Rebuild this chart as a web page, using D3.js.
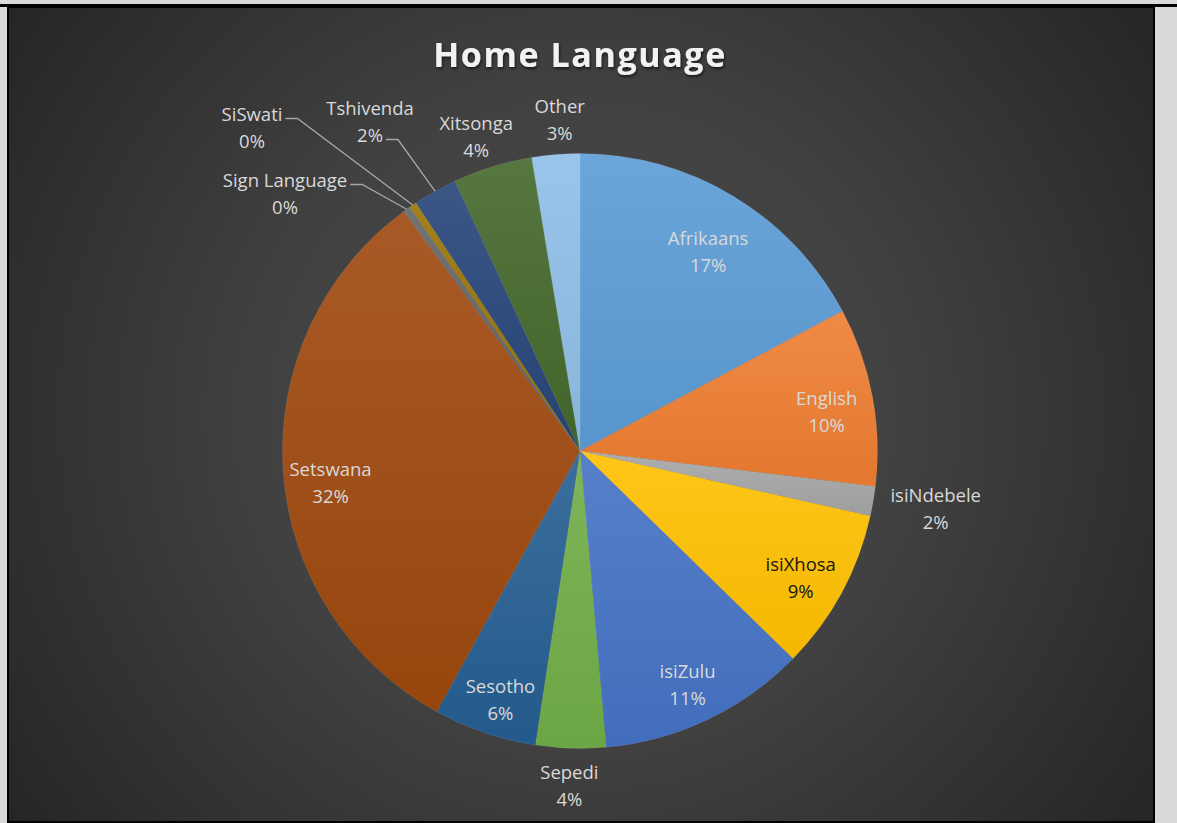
<!DOCTYPE html>
<html>
<head>
<meta charset="utf-8">
<script src="https://cdn.jsdelivr.net/npm/d3@7"></script>
<style>
  html, body { margin: 0; padding: 0; background: #d9d9d9; }
  svg { display: block; }
</style>
</head>
<body>
<svg id="chart" width="1177" height="823"></svg>
<script>
// Home language shares (percent of respondents), clockwise from 12 o'clock
const languages = ["Afrikaans", "English", "isiNdebele", "isiXhosa", "isiZulu", "Sepedi",
  "Sesotho", "Setswana", "Sign Language", "SiSwati", "Tshivenda", "Xitsonga", "Other"];
const shares = [17.2, 9.7, 1.6, 8.8, 11.3, 3.8, 5.6, 31.9, 0.4, 0.4, 2.4, 4.3, 2.6];
const sliceColors = ["#5b9bd5", "#ed7d31", "#a5a5a5", "#ffc000", "#4472c4", "#70ad47",
  "#255e91", "#9e480e", "#636363", "#997300", "#264478", "#43682b", "#8fbde6"];
const chartTitle = "Home Language";

const data = languages.map((name, i) => ({ name, value: shares[i], color: sliceColors[i] }));
const total = d3.sum(shares);
const pctText = v => Math.round(v / total * 100) + "%";

const W = 1177, H = 823;
const svg = d3.select("#chart");
const defs = svg.append("defs");

// panel frame
svg.append("rect").attr("x", 0).attr("y", 4).attr("width", W).attr("height", 3).attr("fill", "#000");
const panel = { x: 9, y: 8, w: 1144, h: 813 };

const bg = defs.append("radialGradient").attr("id", "bg")
  .attr("gradientUnits", "userSpaceOnUse")
  .attr("cx", panel.x + panel.w / 2).attr("cy", panel.y + panel.h / 2).attr("r", 720);
bg.append("stop").attr("offset", "0").attr("stop-color", "#4b4b4b");
bg.append("stop").attr("offset", "0.45").attr("stop-color", "#414141");
bg.append("stop").attr("offset", "1").attr("stop-color", "#242424");

svg.append("rect").attr("x", 7).attr("y", 7).attr("width", panel.w + 4).attr("height", H - 7).attr("fill", "#000");
svg.append("rect").attr("x", panel.x).attr("y", panel.y).attr("width", panel.w).attr("height", panel.h)
  .attr("fill", "url(#bg)");

// title
const shadow = defs.append("filter").attr("id", "tshadow").attr("x", "-10%").attr("y", "-30%")
  .attr("width", "120%").attr("height", "160%");
shadow.append("feDropShadow").attr("dx", 1).attr("dy", 2).attr("stdDeviation", 1.5)
  .attr("flood-color", "#000").attr("flood-opacity", 0.6);

svg.append("text")
  .attr("x", 580).attr("y", 67)
  .attr("text-anchor", "middle")
  .attr("font-family", "'Open Sans', sans-serif")
  .attr("font-weight", 700).attr("font-size", 34)
  .attr("letter-spacing", 1.6)
  .attr("fill", "#f2f2f2")
  .attr("filter", "url(#tshadow)")
  .text(chartTitle);

// pie
const cx = 580, cy = 451, R = 297.5;
const g = svg.append("g").attr("transform", `translate(${cx},${cy})`);

const pie = d3.pie().value(d => d.value).sort(null).startAngle(0).endAngle(2 * Math.PI);
const arcs = pie(data);
const arc = d3.arc().innerRadius(0).outerRadius(R);

arcs.forEach((a, i) => {
  const c = d3.color(a.data.color);
  const top = d3.interpolateRgb(c, "#ffffff")(0.1);
  const bottom = c.darker(0.12);
  const lg = defs.append("linearGradient").attr("id", "sg" + i)
    .attr("x1", 0).attr("y1", 0).attr("x2", 0).attr("y2", 1);
  lg.append("stop").attr("offset", "0").attr("stop-color", top);
  lg.append("stop").attr("offset", "1").attr("stop-color", bottom);
});

g.selectAll("path.slice")
  .data(arcs)
  .join("path")
  .attr("class", "slice")
  .attr("d", arc)
  .attr("fill", (d, i) => `url(#sg${i})`)
  .attr("stroke", "rgba(255,255,255,0.12)")
  .attr("stroke-width", 0.6);

// labels
const FONT = "'Open Sans', sans-serif";
const FS = 18.5, LINE = 27;
const insideNames = new Set(["Afrikaans", "English", "isiXhosa", "isiZulu", "Sesotho", "Setswana"]);
const darkText = new Set(["isiXhosa"]);
const inR = 251, inDrop = 6, outGap = 12;

// small best-fit adjustments of individual label boxes
const labelNudge = {
  "Afrikaans": [-1, 9], "Setswana": [1, 8], "Sesotho": [1, 4],
  "Xitsonga": [-2, 7], "Other": [7, 3], "isiNdebele": [6, 0], "Sepedi": [0, -2]
};

// callout boxes for the thin slices (label centre relative to pie centre)
const callouts = {
  "Sign Language": { dx: -295, dy: -258, attachLine: 0 },
  "SiSwati": { dx: -328, dy: -324, attachLine: 0 },
  "Tshivenda": { dx: -210, dy: -330, attachLine: 1 }
};

const measure = svg.append("text").attr("font-family", FONT).attr("font-size", FS).attr("visibility", "hidden");
const textWidth = s => { measure.text(s); return measure.node().getComputedTextLength(); };

const labelG = g.append("g");

arcs.forEach(a => {
  const name = a.data.name;
  const lines = [name, pctText(a.data.value)];
  const mid = (a.startAngle + a.endAngle) / 2;
  const sx = Math.sin(mid), sy = -Math.cos(mid);
  let px, py;
  if (insideNames.has(name)) {
    px = sx * inR; py = sy * inR + inDrop;
  } else if (callouts[name]) {
    px = callouts[name].dx; py = callouts[name].dy;
  } else {
    const w = d3.max(lines, textWidth), h = LINE * 2;
    const ar = R + outGap;
    px = sx * ar + sx * w / 2;
    py = sy * ar + sy * h / 2;
  }
  if (labelNudge[name]) { px += labelNudge[name][0]; py += labelNudge[name][1]; }

  const t = labelG.append("text")
    .attr("text-anchor", "middle")
    .attr("font-family", FONT)
    .attr("font-size", FS)
    .attr("fill", darkText.has(name) ? "#161616" : "#d9d9d9");
  lines.forEach((ln, k) => {
    t.append("tspan").attr("x", px).attr("y", py + (k - 0.5) * LINE)
      .attr("dominant-baseline", "central").text(ln);
  });

  if (callouts[name]) {
    const k = callouts[name].attachLine;
    const ly = py + (k - 0.5) * LINE + 5;
    const lx = px + textWidth(lines[k]) / 2 + 3;
    const ex = sx * R, ey = sy * R;
    labelG.append("path")
      .attr("d", d3.line()([[lx, ly], [lx + 12, ly], [ex, ey]]))
      .attr("fill", "none")
      .attr("stroke", "#a6a6a6")
      .attr("stroke-width", 1.3);
  }
});
measure.remove();
</script>
</body>
</html>
